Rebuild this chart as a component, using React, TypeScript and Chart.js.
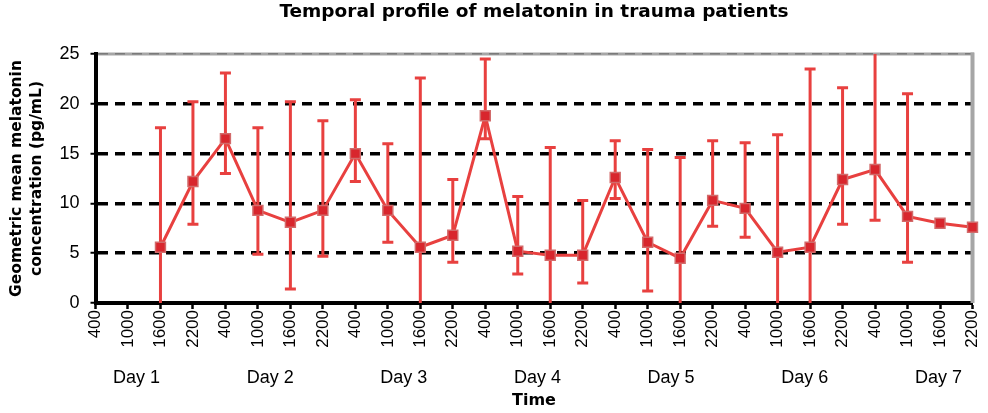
import { useEffect, useRef } from "react";
import { Chart, registerables } from "chart.js";

Chart.register(...registerables);

const times = [
  "400", "1000", "1600", "2200",
  "400", "1000", "1600", "2200",
  "400", "1000", "1600", "2200",
  "400", "1000", "1600", "2200",
  "400", "1000", "1600", "2200",
  "400", "1000", "1600", "2200",
  "400", "1000", "1600", "2200",
];
const days = ["Day 1", "Day 2", "Day 3", "Day 4", "Day 5", "Day 6", "Day 7"];

// geometric mean melatonin (pg/mL)
const means = [
  null, null, 5.6, 12.2, 16.5, 9.3, 8.1, 9.3, 15.0, 9.3, 5.6, 6.8, 18.8, 5.2,
  4.8, 4.8, 12.6, 6.1, 4.5, 10.3, 9.5, 5.1, 5.6, 12.4, 13.4, 8.7, 8.0, 7.6,
];
// error bar ends
const upper = [
  null, null, 17.6, 20.2, 23.1, 17.6, 20.2, 18.3, 20.4, 16.0, 22.6, 12.4, 24.5,
  10.7, 15.6, 10.3, 16.3, 15.4, 14.6, 16.3, 16.1, 16.9, 23.5, 21.6, 25.5, 21.0,
  null, null,
];
const lower = [
  null, null, 0, 7.9, 13.0, 4.9, 1.4, 4.7, 12.2, 6.1, 0, 4.1, 16.5, 2.9, 0, 2.0,
  10.5, 1.2, 0, 7.7, 6.6, 0, 0, 7.9, 8.3, 4.1, null, null,
];

const RED = "#e8403f";
const SANS = "'Liberation Sans', Arial, sans-serif";
const BOLD = "'DejaVu Sans', sans-serif";

const framePlugin = {
  id: "frame",
  beforeDraw(chart: any) {
    const { ctx, chartArea: a } = chart;
    ctx.save();
    ctx.fillStyle = "#fff";
    ctx.fillRect(0, 0, chart.width, chart.height);
    ctx.strokeStyle = "#a6a6a6";
    ctx.lineWidth = 3;
    ctx.beginPath();
    ctx.moveTo(a.left, a.top);
    ctx.lineTo(a.right + 1.5, a.top);
    ctx.stroke();
    ctx.restore();
  },
  beforeDatasetsDraw(chart: any) {
    const { ctx, chartArea: a } = chart;
    ctx.save();
    ctx.strokeStyle = "#a6a6a6";
    ctx.lineWidth = 4;
    ctx.beginPath();
    ctx.moveTo(a.right, a.top - 1.5);
    ctx.lineTo(a.right, a.bottom);
    ctx.stroke();
    ctx.restore();
  },
};

const errorBarPlugin = {
  id: "errorBars",
  beforeDatasetsDraw(chart: any) {
    const { ctx, chartArea: a } = chart;
    const x = chart.scales.x;
    const y = chart.scales.y;
    ctx.save();
    ctx.beginPath();
    ctx.rect(a.left - 10, a.top, a.right - a.left + 20, a.bottom - a.top);
    ctx.clip();
    ctx.strokeStyle = RED;
    ctx.lineWidth = 3;
    upper.forEach((hi, i) => {
      const lo = lower[i];
      if (hi == null || lo == null) return;
      const px = x.getPixelForValue(i);
      const yHi = y.getPixelForValue(hi);
      const yLo = y.getPixelForValue(lo);
      ctx.beginPath();
      ctx.moveTo(px, yHi);
      ctx.lineTo(px, yLo);
      ctx.moveTo(px - 5.5, yHi);
      ctx.lineTo(px + 5.5, yHi);
      if (lo > 0) {
        ctx.moveTo(px - 5.5, yLo);
        ctx.lineTo(px + 5.5, yLo);
      }
      ctx.stroke();
    });
    ctx.restore();
  },
};

const App = () => {
  const chartRef: any = useRef(null);

  useEffect(() => {
    const ctx = chartRef.current.getContext("2d");
    const theChart = new Chart(ctx, {
      type: "line",
      data: {
        labels: times,
        datasets: [
          {
            data: means,
            borderColor: RED,
            borderWidth: 3,
            pointStyle: "rect",
            pointRadius: 7,
            pointBackgroundColor: "#d8262d",
            pointBorderColor: "#d26a6a",
            pointBorderWidth: 1.5,
            tension: 0,
          },
        ],
      },
      options: {
        animation: false,
        responsive: true,
        maintainAspectRatio: false,
        layout: { padding: { left: 0, right: 15.5, top: 0, bottom: 0 } },
        plugins: {
          legend: { display: false },
          tooltip: { enabled: false },
          title: {
            display: true,
            fullSize: false,
            text: "Temporal profile of melatonin in trauma patients",
            color: "#000",
            font: { family: BOLD, size: 18.5, weight: "bold" },
            padding: { top: 1.5, bottom: 30.3 },
          },
        },
        scales: {
          x: {
            type: "category",
            offset: false,
            grid: {
              display: true,
              drawOnChartArea: false,
              drawTicks: true,
              tickLength: 6,
              tickColor: "#000",
              tickWidth: 2.5,
            },
            border: { display: true, color: "#000", width: 4 },
            ticks: {
              autoSkip: false,
              minRotation: 90,
              maxRotation: 90,
              padding: 1,
              color: "#000",
              font: { family: SANS, size: 17 },
            },
            afterFit: (scale: any) => {
              scale.height = 50;
              scale.paddingLeft = 0;
              scale.paddingRight = 0;
            },
          },
          days: {
            type: "linear",
            position: "bottom",
            min: 0.693,
            max: 7.255,
            grid: { display: false },
            border: { display: false },
            afterBuildTicks: (scale: any) => {
              scale.ticks = days.map((_, i) => ({ value: i + 1 }));
            },
            ticks: {
              padding: 6,
              color: "#000",
              font: { family: SANS, size: 18 },
              callback: (v: any) => days[Math.round(v) - 1],
            },
            title: {
              display: true,
              text: "Time",
              color: "#000",
              font: { family: BOLD, size: 16, weight: "bold" },
              padding: { top: 0, bottom: 2.4 },
            },
            afterFit: (scale: any) => {
              scale.height = 60;
              scale.paddingLeft = 0;
              scale.paddingRight = 0;
            },
          },
          y: {
            min: 0,
            max: 25,
            ticks: {
              stepSize: 5,
              padding: 11,
              color: "#000",
              font: { family: SANS, size: 18 },
            },
            grid: {
              color: (c: any) =>
                c.tick && c.tick.value === 0
                  ? "rgba(0,0,0,0)"
                  : c.tick && c.tick.value === 25
                  ? "#7a7a7a"
                  : "#000",
              lineWidth: (c: any) => (c.tick && c.tick.value === 25 ? 1.5 : 3.5),
              tickColor: "#000",
              tickLength: 5,
              tickWidth: 2,
            },
            border: { display: true, color: "#000", width: 4, dash: [10, 7] },
            title: {
              display: true,
              text: ["Geometric mean melatonin", "concentration (pg/mL)"],
              color: "#000",
              font: { family: BOLD, size: 15.5, weight: "bold", lineHeight: 1.3 },
              padding: { top: 7, bottom: 0 },
            },
            afterFit: (scale: any) => {
              scale.width = 95.5;
            },
          },
        },
      },
      plugins: [framePlugin, errorBarPlugin],
    } as any);

    return () => {
      theChart.destroy();
    };
  }, []);

  return (
    <div style={{ position: "absolute", left: 0, top: 0, width: 988, height: 413 }}>
      <canvas ref={chartRef} />
    </div>
  );
};

export default App;
